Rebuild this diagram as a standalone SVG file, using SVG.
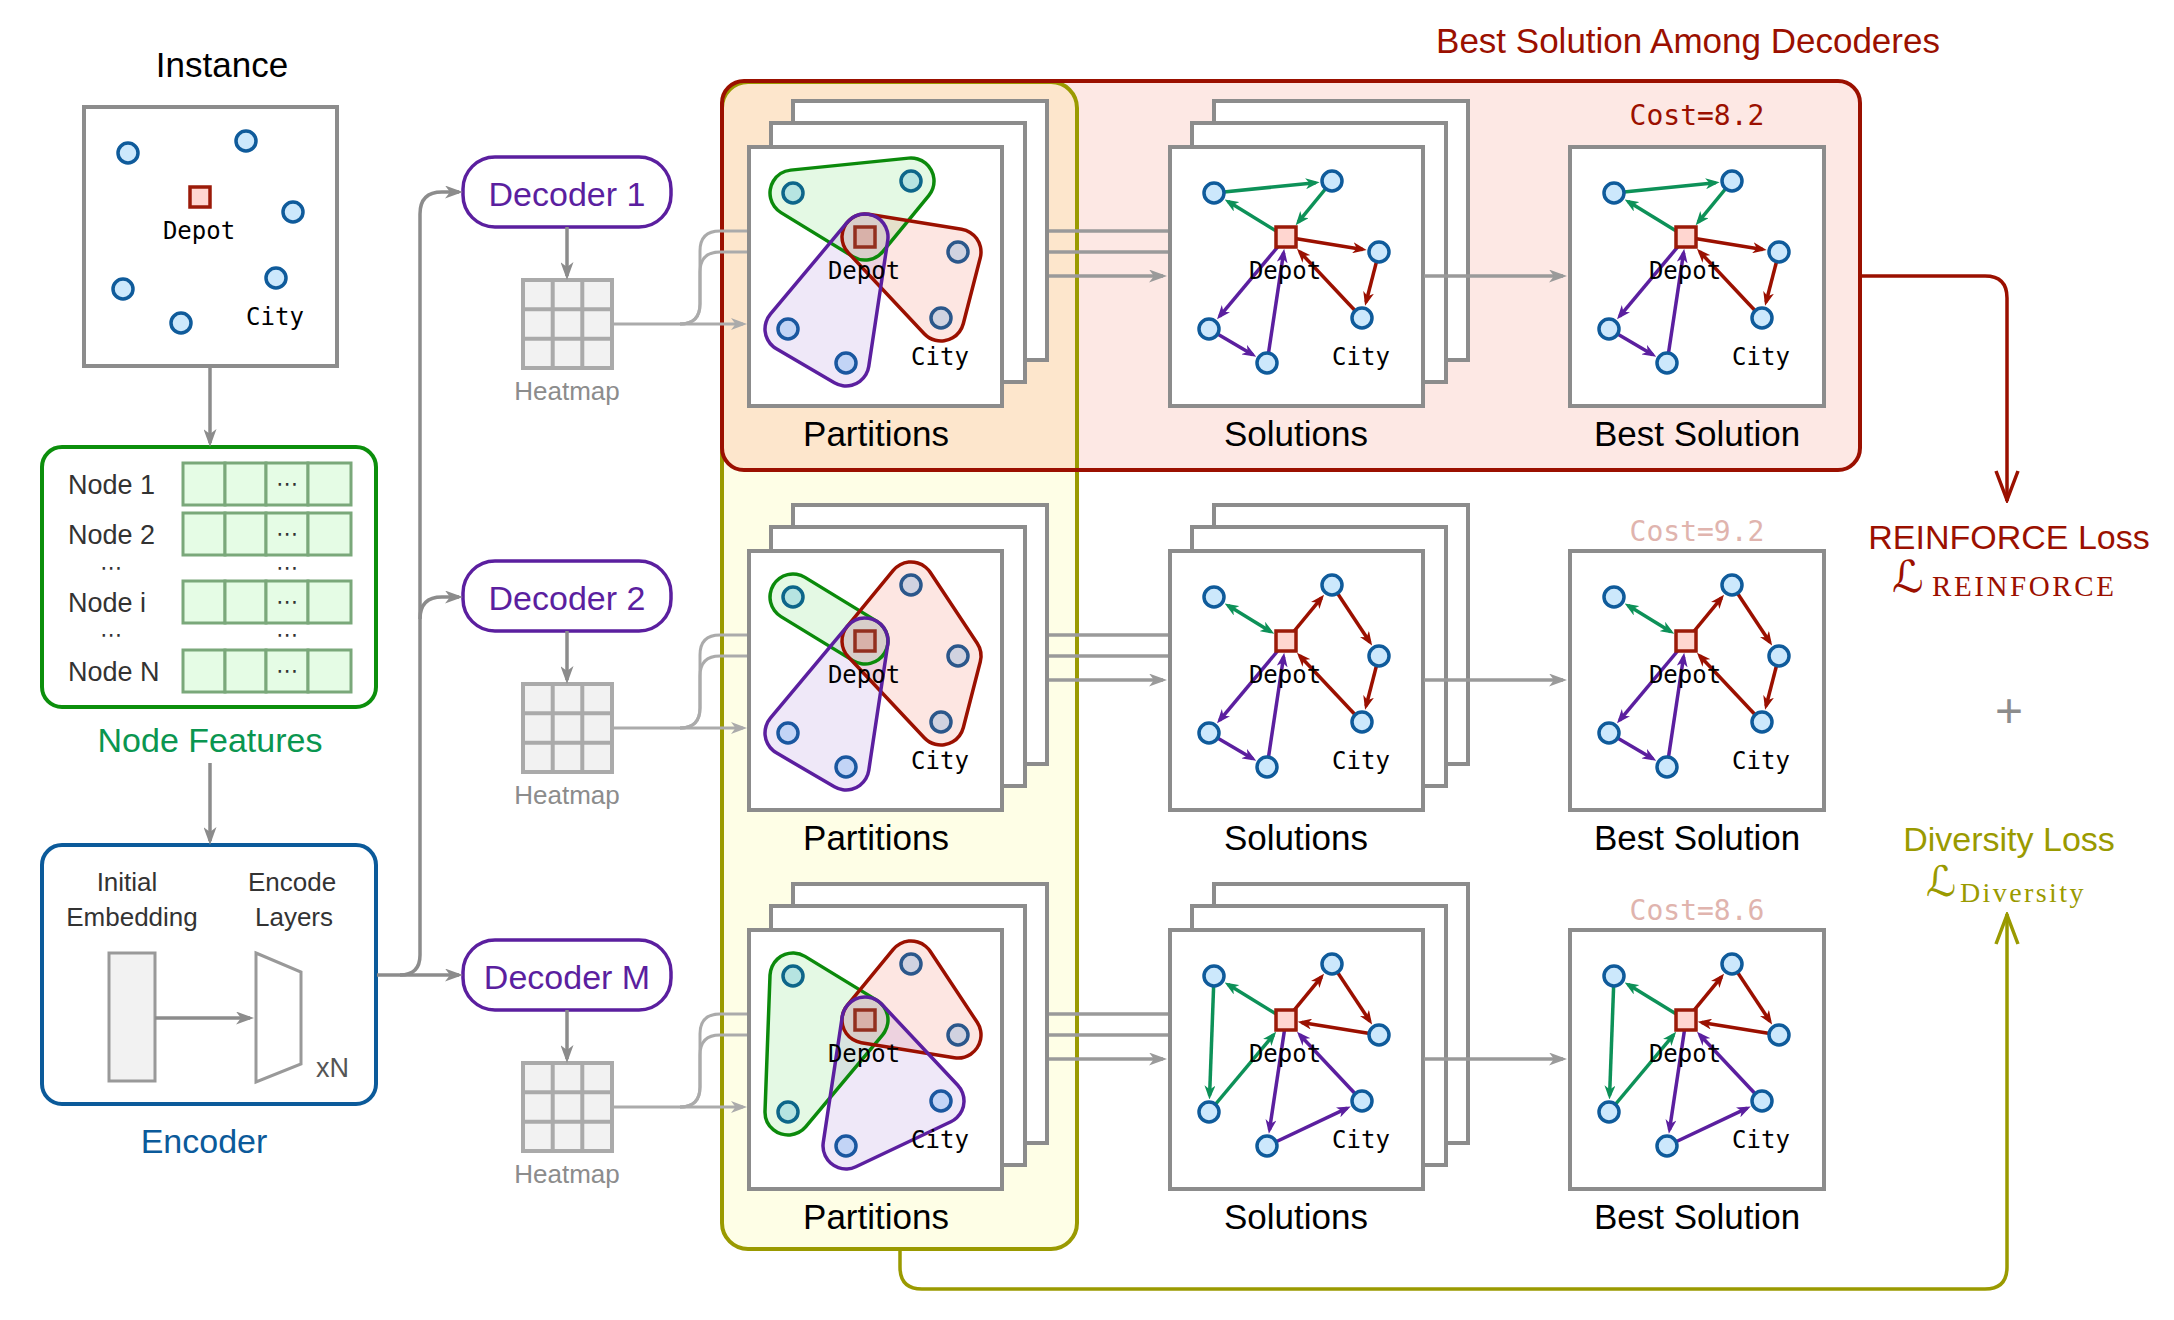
<svg xmlns="http://www.w3.org/2000/svg" width="2174" height="1320" viewBox="0 0 2174 1320">
<defs>
<style>
.bx{fill:#fff;stroke:#8c8c8c;stroke-width:4}
.nd{fill:#cce8fc;stroke:#0f5b9b;stroke-width:3.5}
.dp{fill:#ffd6d0;stroke:#9b1a08;stroke-width:3.5}
.mono{font-family:"DejaVu Sans Mono","Liberation Mono",monospace;font-size:24px;text-anchor:middle}
.cost{font-family:"DejaVu Sans Mono","Liberation Mono",monospace;font-size:28px;text-anchor:middle}
.lbl{font-family:"Liberation Sans",Arial,sans-serif;font-size:35px;text-anchor:middle}
.lbl34{font-family:"Liberation Sans",Arial,sans-serif;font-size:34px;text-anchor:middle}
.sm{font-family:"Liberation Sans",Arial,sans-serif;font-size:27px}
.smc{font-family:"Liberation Sans",Arial,sans-serif;font-size:26px;text-anchor:middle}
.dots{font-family:"DejaVu Sans",sans-serif;font-size:22px;text-anchor:middle;fill:#333}
.cell{fill:#e5fce5;stroke:#7aa87a;stroke-width:3}
.dec{fill:#fff;stroke:#5b1f9f;stroke-width:3.5}
.hm{fill:#f2f2f2;stroke:#aaa;stroke-width:4}
.eg{fill:none;stroke:#0d9158;stroke-width:3.5;marker-end:url(#ag)}
.er{fill:none;stroke:#9b1000;stroke-width:3.5;marker-end:url(#ar)}
.ep{fill:none;stroke:#5b1f9f;stroke-width:3.5;marker-end:url(#ap)}
.ca{fill:none;stroke:#8c8c8c;stroke-width:3.5;marker-end:url(#agr)}
.cm{fill:none;stroke:#9a9a9a;stroke-width:3.5}
.cma{fill:none;stroke:#9a9a9a;stroke-width:3.5;marker-end:url(#agm)}
.cl{fill:none;stroke:#ababab;stroke-width:3}
.cla{fill:none;stroke:#ababab;stroke-width:3;marker-end:url(#agl)}
.hfg{fill:#00c800;stroke:#00c800;stroke-width:46;stroke-linejoin:round;stroke-linecap:round}
.hfr{fill:#f03c1e;stroke:#f03c1e;stroke-width:46;stroke-linejoin:round;stroke-linecap:round}
.hfp{fill:#783cc8;stroke:#783cc8;stroke-width:46;stroke-linejoin:round;stroke-linecap:round}
.hog{fill:none;stroke:#0b8a0b;stroke-width:49.5;stroke-linejoin:round;stroke-linecap:round}
.hor{fill:none;stroke:#9b1000;stroke-width:49.5;stroke-linejoin:round;stroke-linecap:round}
.hop{fill:none;stroke:#5b1f9f;stroke-width:49.5;stroke-linejoin:round;stroke-linecap:round}
.mk{fill:#000;stroke:#000;stroke-width:42.5;stroke-linejoin:round;stroke-linecap:round}
</style>
<marker id="ag" viewBox="0 0 14 11" refX="10" refY="5.5" markerWidth="14" markerHeight="11" markerUnits="userSpaceOnUse" orient="auto-start-reverse"><path d="M0,0 L14,5.5 L0,11 L4,5.5 Z" fill="#0d9158"/></marker>
<marker id="ar" viewBox="0 0 14 11" refX="10" refY="5.5" markerWidth="14" markerHeight="11" markerUnits="userSpaceOnUse" orient="auto-start-reverse"><path d="M0,0 L14,5.5 L0,11 L4,5.5 Z" fill="#9b1000"/></marker>
<marker id="ap" viewBox="0 0 14 11" refX="10" refY="5.5" markerWidth="14" markerHeight="11" markerUnits="userSpaceOnUse" orient="auto-start-reverse"><path d="M0,0 L14,5.5 L0,11 L4,5.5 Z" fill="#5b1f9f"/></marker>
<marker id="agr" viewBox="0 0 18 13" refX="14" refY="6.5" markerWidth="18" markerHeight="13" markerUnits="userSpaceOnUse" orient="auto"><path d="M0,0 L18,6.5 L0,13 L5,6.5 Z" fill="#8c8c8c"/></marker>
<marker id="agm" viewBox="0 0 18 13" refX="14" refY="6.5" markerWidth="18" markerHeight="13" markerUnits="userSpaceOnUse" orient="auto"><path d="M0,0 L18,6.5 L0,13 L5,6.5 Z" fill="#9a9a9a"/></marker>
<marker id="agl" viewBox="0 0 16 12" refX="12" refY="6" markerWidth="16" markerHeight="12" markerUnits="userSpaceOnUse" orient="auto"><path d="M0,0 L16,6 L0,12 L4.5,6 Z" fill="#ababab"/></marker>
<marker id="vr" viewBox="-32 -13 34 26" refX="0" refY="0" markerWidth="34" markerHeight="26" markerUnits="userSpaceOnUse" orient="auto"><path d="M-30,-11 L-1,0 L-30,11" fill="none" stroke="#9b1000" stroke-width="3.5"/></marker>
<marker id="vo" viewBox="-32 -13 34 26" refX="0" refY="0" markerWidth="34" markerHeight="26" markerUnits="userSpaceOnUse" orient="auto"><path d="M-30,-11 L-1,0 L-30,11" fill="none" stroke="#9a9a00" stroke-width="3.5"/></marker>
<clipPath id="clipY"><rect x="722" y="82" width="355" height="1167" rx="26"/></clipPath>
<mask id="m1g" maskUnits="userSpaceOnUse" x="-60" y="-60" width="380" height="380"><rect x="-60" y="-60" width="380" height="380" fill="#fff"/><polygon class="mk" points="44,46 162,34 116,90"/></mask>
<mask id="m1r" maskUnits="userSpaceOnUse" x="-60" y="-60" width="380" height="380"><rect x="-60" y="-60" width="380" height="380" fill="#fff"/><polygon class="mk" points="116,90 209,105 192,171"/></mask>
<mask id="m1p" maskUnits="userSpaceOnUse" x="-60" y="-60" width="380" height="380"><rect x="-60" y="-60" width="380" height="380" fill="#fff"/><polygon class="mk" points="116,90 39,182 97,216"/></mask>
<mask id="m2g" maskUnits="userSpaceOnUse" x="-60" y="-60" width="380" height="380"><rect x="-60" y="-60" width="380" height="380" fill="#fff"/><polyline class="mk" points="44,46 116,90"/></mask>
<mask id="m2r" maskUnits="userSpaceOnUse" x="-60" y="-60" width="380" height="380"><rect x="-60" y="-60" width="380" height="380" fill="#fff"/><polygon class="mk" points="116,90 162,34 209,105 192,171"/></mask>
<mask id="m3g" maskUnits="userSpaceOnUse" x="-60" y="-60" width="380" height="380"><rect x="-60" y="-60" width="380" height="380" fill="#fff"/><polygon class="mk" points="44,46 116,90 39,182"/></mask>
<mask id="m3r" maskUnits="userSpaceOnUse" x="-60" y="-60" width="380" height="380"><rect x="-60" y="-60" width="380" height="380" fill="#fff"/><polygon class="mk" points="116,90 162,34 209,105"/></mask>
<mask id="m3p" maskUnits="userSpaceOnUse" x="-60" y="-60" width="380" height="380"><rect x="-60" y="-60" width="380" height="380" fill="#fff"/><polygon class="mk" points="116,90 192,171 97,216"/></mask>
</defs>
<rect x="0" y="0" width="2174" height="1320" fill="#fff"/>

<!-- background containers -->
<g id="containers">
<rect x="722" y="82" width="355" height="1167" rx="26" fill="#fefee6"/>
<rect x="722" y="81" width="1138" height="389" rx="22" fill="#fde8e4"/>
<rect x="722" y="81" width="1138" height="389" rx="22" fill="#fde6cc" clip-path="url(#clipY)"/>
<rect x="722" y="82" width="355" height="1167" rx="26" fill="none" stroke="#9a9a00" stroke-width="4"/>
<rect x="722" y="81" width="1138" height="389" rx="22" fill="none" stroke="#9b1000" stroke-width="4"/>
<text class="lbl" x="1688" y="53" fill="#9b1000">Best Solution Among Decoderes</text>
</g>

<!-- Instance -->
<g id="instance">
<text class="lbl" x="222" y="77">Instance</text>
<g transform="translate(84,107)">
<rect class="bx" x="0" y="0" width="253" height="259"/>
<circle class="nd" cx="44" cy="46" r="10"/><circle class="nd" cx="162" cy="34" r="10"/><circle class="nd" cx="209" cy="105" r="10"/><circle class="nd" cx="192" cy="171" r="10"/><circle class="nd" cx="39" cy="182" r="10"/><circle class="nd" cx="97" cy="216" r="10"/>
<rect class="dp" x="106" y="80" width="20" height="20"/>
<text class="mono" x="115" y="132">Depot</text>
<text class="mono" x="191" y="218">City</text>
</g>
</g>

<!-- Node features -->
<g id="node-features">
<rect x="42" y="447" width="334" height="260" rx="20" fill="#fff" stroke="#0c8f0c" stroke-width="4"/>
<g>
<rect class="cell" x="183" y="463" width="42" height="42"/><rect class="cell" x="225" y="463" width="41" height="42"/><rect class="cell" x="266" y="463" width="42" height="42"/><rect class="cell" x="308" y="463" width="43" height="42"/>
<rect class="cell" x="183" y="513" width="42" height="42"/><rect class="cell" x="225" y="513" width="41" height="42"/><rect class="cell" x="266" y="513" width="42" height="42"/><rect class="cell" x="308" y="513" width="43" height="42"/>
<rect class="cell" x="183" y="581" width="42" height="42"/><rect class="cell" x="225" y="581" width="41" height="42"/><rect class="cell" x="266" y="581" width="42" height="42"/><rect class="cell" x="308" y="581" width="43" height="42"/>
<rect class="cell" x="183" y="650" width="42" height="42"/><rect class="cell" x="225" y="650" width="41" height="42"/><rect class="cell" x="266" y="650" width="42" height="42"/><rect class="cell" x="308" y="650" width="43" height="42"/>
</g>
<text class="sm" x="68" y="494" fill="#333">Node 1</text>
<text class="sm" x="68" y="544" fill="#333">Node 2</text>
<text class="sm" x="68" y="612" fill="#333">Node i</text>
<text class="sm" x="68" y="681" fill="#333">Node N</text>
<text class="dots" x="287" y="491">⋯</text>
<text class="dots" x="287" y="541">⋯</text>
<text class="dots" x="287" y="609">⋯</text>
<text class="dots" x="287" y="678">⋯</text>
<text class="dots" x="111" y="575">⋯</text>
<text class="dots" x="287" y="575">⋯</text>
<text class="dots" x="111" y="642">⋯</text>
<text class="dots" x="287" y="642">⋯</text>
<text class="lbl34" x="210" y="752" fill="#0a9650">Node Features</text>
</g>

<!-- Encoder -->
<g id="encoder">
<rect x="42" y="845" width="334" height="259" rx="20" fill="#fff" stroke="#0b5a9a" stroke-width="4"/>
<text class="smc" x="127" y="891" fill="#333">Initial</text>
<text class="smc" x="132" y="926" fill="#333">Embedding</text>
<text class="smc" x="292" y="891" fill="#333">Encode</text>
<text class="smc" x="294" y="926" fill="#333">Layers</text>
<rect x="109" y="953" width="46" height="128" fill="#f2f2f2" stroke="#999" stroke-width="3"/>
<polygon points="256,953 301,972 301,1064 256,1082" fill="#fff" stroke="#999" stroke-width="3"/>
<text class="sm" x="316" y="1077" fill="#555" font-size="26">xN</text>
<text class="lbl34" x="204" y="1153" fill="#0b5a9a">Encoder</text>
</g>

<!-- Decoders -->
<g id="decoder-1"><rect class="dec" x="463" y="157" width="208" height="70" rx="32"/><text class="lbl34" x="567" y="206" fill="#5b1f9f">Decoder 1</text></g>
<g id="decoder-2"><rect class="dec" x="463" y="561" width="208" height="70" rx="32"/><text class="lbl34" x="567" y="610" fill="#5b1f9f">Decoder 2</text></g>
<g id="decoder-m"><rect class="dec" x="463" y="940" width="208" height="70" rx="32"/><text class="lbl34" x="567" y="989" fill="#5b1f9f">Decoder M</text></g>

<!-- Heatmaps -->
<g id="heatmap-1" transform="translate(523,280)">
<rect class="hm" x="0" y="0" width="89" height="88"/><path d="M29.7,0 V88 M59.3,0 V88 M0,29.3 H89 M0,58.7 H89" stroke="#aaa" stroke-width="4"/>
<text class="smc" x="44" y="120" fill="#8c8c8c" font-size="27">Heatmap</text>
</g>
<g id="heatmap-2" transform="translate(523,684)">
<rect class="hm" x="0" y="0" width="89" height="88"/><path d="M29.7,0 V88 M59.3,0 V88 M0,29.3 H89 M0,58.7 H89" stroke="#aaa" stroke-width="4"/>
<text class="smc" x="44" y="120" fill="#8c8c8c" font-size="27">Heatmap</text>
</g>
<g id="heatmap-m" transform="translate(523,1063)">
<rect class="hm" x="0" y="0" width="89" height="88"/><path d="M29.7,0 V88 M59.3,0 V88 M0,29.3 H89 M0,58.7 H89" stroke="#aaa" stroke-width="4"/>
<text class="smc" x="44" y="120" fill="#8c8c8c" font-size="27">Heatmap</text>
</g>

<!-- Partitions row 1 -->
<g id="partitions-1" transform="translate(749,147)">
<rect class="bx" x="44" y="-46" width="254" height="259"/><rect class="bx" x="22" y="-24" width="254" height="259"/><rect class="bx" x="0" y="0" width="253" height="259"/>
<circle class="nd" cx="44" cy="46" r="10"/><circle class="nd" cx="162" cy="34" r="10"/><circle class="nd" cx="209" cy="105" r="10"/><circle class="nd" cx="192" cy="171" r="10"/><circle class="nd" cx="39" cy="182" r="10"/><circle class="nd" cx="97" cy="216" r="10"/>
<rect class="dp" x="106" y="80" width="20" height="20"/>
<g opacity="0.1"><polygon class="hfg" points="44,46 162,34 116,90"/></g>
<g opacity="0.12"><polygon class="hfr" points="116,90 209,105 192,171"/></g>
<g opacity="0.11"><polygon class="hfp" points="116,90 39,182 97,216"/></g>
<polygon class="hog" points="44,46 162,34 116,90" mask="url(#m1g)"/>
<polygon class="hor" points="116,90 209,105 192,171" mask="url(#m1r)"/>
<polygon class="hop" points="116,90 39,182 97,216" mask="url(#m1p)"/>
<text class="mono" x="115" y="132">Depot</text>
<text class="mono" x="191" y="218">City</text>
<text class="lbl" x="127" y="299">Partitions</text>
</g>

<!-- Partitions row 2 -->
<g id="partitions-2" transform="translate(749,551)">
<rect class="bx" x="44" y="-46" width="254" height="259"/><rect class="bx" x="22" y="-24" width="254" height="259"/><rect class="bx" x="0" y="0" width="253" height="259"/>
<circle class="nd" cx="44" cy="46" r="10"/><circle class="nd" cx="162" cy="34" r="10"/><circle class="nd" cx="209" cy="105" r="10"/><circle class="nd" cx="192" cy="171" r="10"/><circle class="nd" cx="39" cy="182" r="10"/><circle class="nd" cx="97" cy="216" r="10"/>
<rect class="dp" x="106" y="80" width="20" height="20"/>
<g opacity="0.1"><polyline class="hfg" points="44,46 116,90"/></g>
<g opacity="0.12"><polygon class="hfr" points="116,90 162,34 209,105 192,171"/></g>
<g opacity="0.11"><polygon class="hfp" points="116,90 39,182 97,216"/></g>
<polyline class="hog" points="44,46 116,90" mask="url(#m2g)"/>
<polygon class="hor" points="116,90 162,34 209,105 192,171" mask="url(#m2r)"/>
<polygon class="hop" points="116,90 39,182 97,216" mask="url(#m1p)"/>
<text class="mono" x="115" y="132">Depot</text>
<text class="mono" x="191" y="218">City</text>
<text class="lbl" x="127" y="299">Partitions</text>
</g>

<!-- Partitions row 3 -->
<g id="partitions-m" transform="translate(749,930)">
<rect class="bx" x="44" y="-46" width="254" height="259"/><rect class="bx" x="22" y="-24" width="254" height="259"/><rect class="bx" x="0" y="0" width="253" height="259"/>
<circle class="nd" cx="44" cy="46" r="10"/><circle class="nd" cx="162" cy="34" r="10"/><circle class="nd" cx="209" cy="105" r="10"/><circle class="nd" cx="192" cy="171" r="10"/><circle class="nd" cx="39" cy="182" r="10"/><circle class="nd" cx="97" cy="216" r="10"/>
<rect class="dp" x="106" y="80" width="20" height="20"/>
<g opacity="0.1"><polygon class="hfg" points="44,46 116,90 39,182"/></g>
<g opacity="0.12"><polygon class="hfr" points="116,90 162,34 209,105"/></g>
<g opacity="0.11"><polygon class="hfp" points="116,90 192,171 97,216"/></g>
<polygon class="hog" points="44,46 116,90 39,182" mask="url(#m3g)"/>
<polygon class="hor" points="116,90 162,34 209,105" mask="url(#m3r)"/>
<polygon class="hop" points="116,90 192,171 97,216" mask="url(#m3p)"/>
<text class="mono" x="115" y="132">Depot</text>
<text class="mono" x="191" y="218">City</text>
<text class="lbl" x="127" y="299">Partitions</text>
</g>

<!-- Solutions row 1 -->
<g id="solutions-1" transform="translate(1170,147)">
<rect class="bx" x="44" y="-46" width="254" height="259"/><rect class="bx" x="22" y="-24" width="254" height="259"/><rect class="bx" x="0" y="0" width="253" height="259"/>
<path class="eg" d="M116,90 L58.1,54.6"/><path class="eg" d="M44,46 L145.6,35.7"/><path class="eg" d="M162,34 L128.2,75.2"/>
<path class="er" d="M116,90 L192.7,102.4"/><path class="er" d="M209,105 L196.1,155"/><path class="er" d="M192,171 L129.7,104.7"/>
<path class="ep" d="M116,90 L49.6,169.3"/><path class="ep" d="M39,182 L82.8,207.7"/><path class="ep" d="M97,216 L113.6,105.7"/>
<circle class="nd" cx="44" cy="46" r="10"/><circle class="nd" cx="162" cy="34" r="10"/><circle class="nd" cx="209" cy="105" r="10"/><circle class="nd" cx="192" cy="171" r="10"/><circle class="nd" cx="39" cy="182" r="10"/><circle class="nd" cx="97" cy="216" r="10"/>
<rect class="dp" x="106" y="80" width="20" height="20"/>
<text class="mono" x="115" y="132">Depot</text>
<text class="mono" x="191" y="218">City</text>
<text class="lbl" x="126" y="299">Solutions</text>
</g>

<!-- Solutions row 2 -->
<g id="solutions-2" transform="translate(1170,551)">
<rect class="bx" x="44" y="-46" width="254" height="259"/><rect class="bx" x="22" y="-24" width="254" height="259"/><rect class="bx" x="0" y="0" width="253" height="259"/>
<path class="eg" d="M58.1,54.6 L100.8,80.7" marker-start="url(#ag)"/>
<path class="er" d="M116,90 L151.5,46.8"/><path class="er" d="M162,34 L199.9,91.2"/><path class="er" d="M209,105 L196.1,155"/><path class="er" d="M192,171 L129.7,104.7"/>
<path class="ep" d="M116,90 L49.6,169.3"/><path class="ep" d="M39,182 L82.8,207.7"/><path class="ep" d="M97,216 L113.6,105.7"/>
<circle class="nd" cx="44" cy="46" r="10"/><circle class="nd" cx="162" cy="34" r="10"/><circle class="nd" cx="209" cy="105" r="10"/><circle class="nd" cx="192" cy="171" r="10"/><circle class="nd" cx="39" cy="182" r="10"/><circle class="nd" cx="97" cy="216" r="10"/>
<rect class="dp" x="106" y="80" width="20" height="20"/>
<text class="mono" x="115" y="132">Depot</text>
<text class="mono" x="191" y="218">City</text>
<text class="lbl" x="126" y="299">Solutions</text>
</g>

<!-- Solutions row 3 -->
<g id="solutions-m" transform="translate(1170,930)">
<rect class="bx" x="44" y="-46" width="254" height="259"/><rect class="bx" x="22" y="-24" width="254" height="259"/><rect class="bx" x="0" y="0" width="253" height="259"/>
<path class="eg" d="M116,90 L58.1,54.6"/><path class="eg" d="M44,46 L39.6,165.5"/><path class="eg" d="M39,182 L103.6,104.8"/>
<path class="er" d="M116,90 L151.5,46.8"/><path class="er" d="M162,34 L199.9,91.2"/><path class="er" d="M209,105 L131.7,92.5"/>
<path class="ep" d="M116,90 L99.5,199.7"/><path class="ep" d="M97,216 L177.1,178.1"/><path class="ep" d="M192,171 L129.7,104.7"/>
<circle class="nd" cx="44" cy="46" r="10"/><circle class="nd" cx="162" cy="34" r="10"/><circle class="nd" cx="209" cy="105" r="10"/><circle class="nd" cx="192" cy="171" r="10"/><circle class="nd" cx="39" cy="182" r="10"/><circle class="nd" cx="97" cy="216" r="10"/>
<rect class="dp" x="106" y="80" width="20" height="20"/>
<text class="mono" x="115" y="132">Depot</text>
<text class="mono" x="191" y="218">City</text>
<text class="lbl" x="126" y="299">Solutions</text>
</g>

<!-- Best row 1 -->
<g id="best-1" transform="translate(1570,147)">
<text class="cost" x="127" y="-22" fill="#9b1000">Cost=8.2</text>
<rect class="bx" x="0" y="0" width="254" height="259"/>
<path class="eg" d="M116,90 L58.1,54.6"/><path class="eg" d="M44,46 L145.6,35.7"/><path class="eg" d="M162,34 L128.2,75.2"/>
<path class="er" d="M116,90 L192.7,102.4"/><path class="er" d="M209,105 L196.1,155"/><path class="er" d="M192,171 L129.7,104.7"/>
<path class="ep" d="M116,90 L49.6,169.3"/><path class="ep" d="M39,182 L82.8,207.7"/><path class="ep" d="M97,216 L113.6,105.7"/>
<circle class="nd" cx="44" cy="46" r="10"/><circle class="nd" cx="162" cy="34" r="10"/><circle class="nd" cx="209" cy="105" r="10"/><circle class="nd" cx="192" cy="171" r="10"/><circle class="nd" cx="39" cy="182" r="10"/><circle class="nd" cx="97" cy="216" r="10"/>
<rect class="dp" x="106" y="80" width="20" height="20"/>
<text class="mono" x="115" y="132">Depot</text>
<text class="mono" x="191" y="218">City</text>
<text class="lbl" x="127" y="299">Best Solution</text>
</g>

<!-- Best row 2 -->
<g id="best-2" transform="translate(1570,551)">
<text class="cost" x="127" y="-10" fill="#e0b4ae">Cost=9.2</text>
<rect class="bx" x="0" y="0" width="254" height="259"/>
<path class="eg" d="M58.1,54.6 L100.8,80.7" marker-start="url(#ag)"/>
<path class="er" d="M116,90 L151.5,46.8"/><path class="er" d="M162,34 L199.9,91.2"/><path class="er" d="M209,105 L196.1,155"/><path class="er" d="M192,171 L129.7,104.7"/>
<path class="ep" d="M116,90 L49.6,169.3"/><path class="ep" d="M39,182 L82.8,207.7"/><path class="ep" d="M97,216 L113.6,105.7"/>
<circle class="nd" cx="44" cy="46" r="10"/><circle class="nd" cx="162" cy="34" r="10"/><circle class="nd" cx="209" cy="105" r="10"/><circle class="nd" cx="192" cy="171" r="10"/><circle class="nd" cx="39" cy="182" r="10"/><circle class="nd" cx="97" cy="216" r="10"/>
<rect class="dp" x="106" y="80" width="20" height="20"/>
<text class="mono" x="115" y="132">Depot</text>
<text class="mono" x="191" y="218">City</text>
<text class="lbl" x="127" y="299">Best Solution</text>
</g>

<!-- Best row 3 -->
<g id="best-m" transform="translate(1570,930)">
<text class="cost" x="127" y="-10" fill="#e0b4ae">Cost=8.6</text>
<rect class="bx" x="0" y="0" width="254" height="259"/>
<path class="eg" d="M116,90 L58.1,54.6"/><path class="eg" d="M44,46 L39.6,165.5"/><path class="eg" d="M39,182 L103.6,104.8"/>
<path class="er" d="M116,90 L151.5,46.8"/><path class="er" d="M162,34 L199.9,91.2"/><path class="er" d="M209,105 L131.7,92.5"/>
<path class="ep" d="M116,90 L99.5,199.7"/><path class="ep" d="M97,216 L177.1,178.1"/><path class="ep" d="M192,171 L129.7,104.7"/>
<circle class="nd" cx="44" cy="46" r="10"/><circle class="nd" cx="162" cy="34" r="10"/><circle class="nd" cx="209" cy="105" r="10"/><circle class="nd" cx="192" cy="171" r="10"/><circle class="nd" cx="39" cy="182" r="10"/><circle class="nd" cx="97" cy="216" r="10"/>
<rect class="dp" x="106" y="80" width="20" height="20"/>
<text class="mono" x="115" y="132">Depot</text>
<text class="mono" x="191" y="218">City</text>
<text class="lbl" x="127" y="299">Best Solution</text>
</g>

<!-- Losses -->
<g id="reinforce-loss">
<text class="lbl34" x="2009" y="549" fill="#9b1000">REINFORCE Loss</text>
<text y="592" fill="#9b1000"><tspan x="1892" font-family="DejaVu Sans, sans-serif" font-size="44">ℒ</tspan><tspan x="1932" y="596" font-family="Liberation Serif, serif" font-size="29" letter-spacing="2.6">REINFORCE</tspan></text>
</g>
<g id="plus"><text x="2009" y="727" font-family="Liberation Sans, sans-serif" font-size="48" fill="#8c8c8c" text-anchor="middle">+</text></g>
<g id="diversity-loss">
<text class="lbl34" x="2009" y="851" fill="#9a9a00">Diversity Loss</text>
<text y="896" fill="#9a9a00"><tspan x="1926" font-family="DejaVu Sans, sans-serif" font-size="42">ℒ</tspan><tspan x="1960" y="902" font-family="Liberation Serif, serif" font-size="28" letter-spacing="2.4">Diversity</tspan></text>
</g>

<!-- Connectors -->
<g id="connectors">
<path class="ca" d="M210,366 V443"/>
<path class="ca" d="M210,763 V841"/>
<path class="ca" d="M155,1018 H250"/>
<path class="ca" d="M377,975 H459"/>
<path class="ca" d="M400,975 Q420,975 420,955 V214 Q420,192 442,192 H459"/>
<path class="ca" d="M420,619 Q420,597 442,597 H459"/>
<path class="ca" d="M567,227 V276"/>
<path class="ca" d="M567,631 V680"/>
<path class="ca" d="M567,1010 V1059"/>
<path class="cla" d="M612,324 H743"/>
<path class="cl" d="M680,324 Q700,324 700,304 V272 Q700,252 720,252 H747"/>
<path class="cl" d="M680,324 Q700,324 700,304 V251 Q700,231 720,231 H747"/>
<path class="cla" d="M612,728 H743"/>
<path class="cl" d="M680,728 Q700,728 700,708 V676 Q700,656 720,656 H747"/>
<path class="cl" d="M680,728 Q700,728 700,708 V655 Q700,635 720,635 H747"/>
<path class="cla" d="M612,1107 H743"/>
<path class="cl" d="M680,1107 Q700,1107 700,1087 V1055 Q700,1035 720,1035 H747"/>
<path class="cl" d="M680,1107 Q700,1107 700,1087 V1034 Q700,1014 720,1014 H747"/>
<path class="cm" d="M1049,231 H1168"/><path class="cm" d="M1049,252 H1168"/><path class="cma" d="M1049,276 H1163"/>
<path class="cm" d="M1049,635 H1168"/><path class="cm" d="M1049,656 H1168"/><path class="cma" d="M1049,680 H1163"/>
<path class="cm" d="M1049,1014 H1168"/><path class="cm" d="M1049,1035 H1168"/><path class="cma" d="M1049,1059 H1163"/>
<path class="cma" d="M1424,276 H1563"/>
<path class="cma" d="M1424,680 H1563"/>
<path class="cma" d="M1424,1059 H1563"/>
<path d="M1860,276 H1985 Q2007,276 2007,298 V501" fill="none" stroke="#9b1000" stroke-width="3.5" marker-end="url(#vr)"/>
<path d="M900,1249 V1267 Q900,1289 922,1289 H1985 Q2007,1289 2007,1267 V914" fill="none" stroke="#9a9a00" stroke-width="3.5" marker-end="url(#vo)"/>
</g>
</svg>
